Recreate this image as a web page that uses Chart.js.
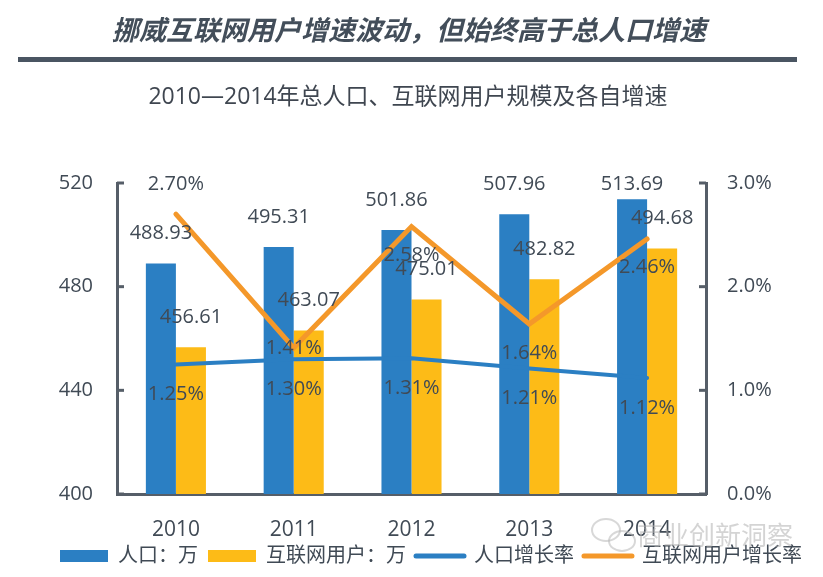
<!DOCTYPE html>
<html>
<head>
<meta charset="utf-8">
<script src="https://cdn.jsdelivr.net/npm/chart.js@4"></script>
<style>
    html, body { margin: 0; padding: 0; background: #fff; }
</style>
</head>
<body>
<canvas id="chart" width="823" height="577"></canvas>
<script>
// chart data
const years = ['2010', '2011', '2012', '2013', '2014'];
const population = [488.93, 495.31, 501.86, 507.96, 513.69];
const internetUsers = [456.61, 463.07, 475.01, 482.82, 494.68];
const populationGrowth = [1.25, 1.30, 1.31, 1.21, 1.12];
const internetGrowth = [2.70, 1.41, 2.58, 1.64, 2.46];
const leftTicks = [400, 440, 480, 520];
const rightTicks = [0, 1, 2, 3];

const titleText = '挪威互联网用户增速波动，但始终高于总人口增速';
const subtitleText = '2010—2014年总人口、互联网用户规模及各自增速';

const FONT = '"Open Sans", "Noto Sans CJK SC", sans-serif';
const TEXT = '#404a55';
const AXIS = '#565e68';
const BLUE = '#2b7fc3';
const YELLOW = '#fdbb17';
const ORANGE = '#f4982a';

// vertical shift of each growth label relative to its point
const popLabelShift = [30, 30, 30, 30, 30];
const netLabelShift = [-31, 0, 29, 29, 28];

const headerPlugin = {
    id: 'header',
    beforeDraw(chart) {
        const c = chart.ctx;
        c.save();
        c.fillStyle = '#fff';
        c.fillRect(0, 0, chart.width, chart.height);
        c.textAlign = 'center';
        c.textBaseline = 'middle';
        c.fillStyle = '#434e5a';
        c.font = 'italic bold 27px "Noto Sans CJK SC", sans-serif';
        c.fillText(titleText, 409, 30);
        c.fillStyle = '#4a5562';
        c.fillRect(18, 57, 779, 5);
        c.fillStyle = '#3f4650';
        c.font = '23px ' + FONT;
        c.fillText(subtitleText, 408, 97);
        c.restore();
    }
};

const axisTicksPlugin = {
    id: 'axisTicks',
    afterDraw(chart) {
        const c = chart.ctx;
        const area = chart.chartArea;
        c.save();
        c.strokeStyle = AXIS;
        c.lineWidth = 3;
        leftTicks.forEach(v => {
            const y = chart.scales.y.getPixelForValue(v);
            c.beginPath();
            c.moveTo(area.left, y);
            c.lineTo(area.left + 7, y);
            c.stroke();
        });
        rightTicks.forEach(v => {
            const y = chart.scales.y1.getPixelForValue(v);
            c.beginPath();
            c.moveTo(area.right - 7, y);
            c.lineTo(area.right, y);
            c.stroke();
        });
        c.restore();
    }
};

const valueLabelPlugin = {
    id: 'valueLabels',
    afterDatasetsDraw(chart) {
        const c = chart.ctx;
        c.save();
        c.font = '20px ' + FONT;
        c.fillStyle = TEXT;
        c.textAlign = 'center';
        c.textBaseline = 'middle';
        chart.data.datasets.forEach((ds, i) => {
            const meta = chart.getDatasetMeta(i);
            meta.data.forEach((el, j) => {
                let y;
                let text;
                if (ds.type === 'line') {
                    const shift = ds.label === '人口增长率' ? popLabelShift[j] : netLabelShift[j];
                    y = el.y + shift;
                    text = ds.data[j].toFixed(2) + '%';
                } else {
                    y = el.y - 30;
                    text = ds.data[j].toFixed(2);
                }
                y = Math.max(y, 184);
                c.fillText(text, el.x, y);
            });
        });
        c.restore();
    }
};

const watermarkPlugin = {
    id: 'watermark',
    afterDraw(chart) {
        const c = chart.ctx;
        c.save();
        c.globalAlpha = 0.55;
        c.strokeStyle = '#b8b8b8';
        c.lineWidth = 2;
        c.beginPath();
        c.ellipse(606, 530, 14, 11, 0, 0, Math.PI * 2);
        c.stroke();
        c.beginPath();
        c.ellipse(622, 541, 13, 10, 0, 0, Math.PI * 2);
        c.stroke();
        c.fillStyle = '#b0b0b0';
        c.font = '26px "Noto Sans CJK SC", sans-serif';
        c.textAlign = 'left';
        c.textBaseline = 'middle';
        c.fillText('商业创新洞察', 637, 535);
        c.restore();
    }
};

const ctx = document.getElementById('chart').getContext('2d');
const chart = new Chart(ctx, {
    type: 'bar',
    data: {
        labels: years,
        datasets: [
            {
                label: '人口：万',
                data: population,
                backgroundColor: BLUE,
                yAxisID: 'y',
                order: 2,
                categoryPercentage: 0.51,
                barPercentage: 1.0
            },
            {
                label: '互联网用户：万',
                data: internetUsers,
                backgroundColor: YELLOW,
                yAxisID: 'y',
                order: 2,
                categoryPercentage: 0.51,
                barPercentage: 1.0
            },
            {
                type: 'line',
                label: '人口增长率',
                data: populationGrowth,
                borderColor: BLUE,
                backgroundColor: BLUE,
                borderWidth: 4,
                borderCapStyle: 'round',
                pointRadius: 0,
                yAxisID: 'y1',
                order: 1
            },
            {
                type: 'line',
                label: '互联网用户增长率',
                data: internetGrowth,
                borderColor: ORANGE,
                backgroundColor: ORANGE,
                borderWidth: 5,
                borderCapStyle: 'round',
                pointRadius: 0,
                yAxisID: 'y1',
                order: 1
            }
        ]
    },
    options: {
        responsive: false,
        animation: false,
        layout: {
            padding: { top: 183, left: 39, right: 0, bottom: 1 }
        },
        plugins: {
            tooltip: { enabled: false },
            legend: {
                position: 'bottom',
                labels: {
                    font: { family: FONT, size: 20 },
                    color: TEXT,
                    usePointStyle: true,
                    pointStyleWidth: 48,
                    boxHeight: 12,
                    padding: 10,
                    generateLabels(chart) {
                        const items = Chart.defaults.plugins.legend.labels.generateLabels(chart);
                        items.sort((a, b) => a.datasetIndex - b.datasetIndex);
                        return items.map(item => {
                            const ds = chart.data.datasets[item.datasetIndex];
                            if (ds.type === 'line') {
                                item.pointStyle = 'line';
                                item.strokeStyle = ds.borderColor;
                                item.lineWidth = 5;
                                item.lineCap = 'round';
                            } else {
                                item.pointStyle = 'rect';
                                item.fillStyle = ds.backgroundColor;
                                item.lineWidth = 0;
                            }
                            return item;
                        });
                    }
                }
            }
        },
        scales: {
            x: {
                grid: { display: false, drawTicks: false },
                border: { display: true, color: AXIS, width: 3 },
                ticks: {
                    font: { family: FONT, size: 21 },
                    color: TEXT,
                    padding: 23
                },
                afterFit(scale) { scale.height = 42; }
            },
            y: {
                position: 'left',
                min: leftTicks[0],
                max: leftTicks[leftTicks.length - 1],
                grid: { display: false, drawTicks: false },
                border: { display: true, color: AXIS, width: 3 },
                ticks: {
                    stepSize: leftTicks[1] - leftTicks[0],
                    font: { family: FONT, size: 20 },
                    color: TEXT,
                    padding: 24
                },
                afterFit(scale) { scale.width = 78; }
            },
            y1: {
                position: 'right',
                min: rightTicks[0],
                max: rightTicks[rightTicks.length - 1],
                grid: { display: false, drawTicks: false },
                border: { display: true, color: AXIS, width: 3 },
                ticks: {
                    stepSize: rightTicks[1] - rightTicks[0],
                    font: { family: FONT, size: 20 },
                    color: TEXT,
                    padding: 21,
                    callback: v => v.toFixed(1) + '%'
                },
                afterFit(scale) { scale.width = 117; }
            }
        }
    },
    plugins: [headerPlugin, axisTicksPlugin, valueLabelPlugin, watermarkPlugin]
});
</script>
</body>
</html>
